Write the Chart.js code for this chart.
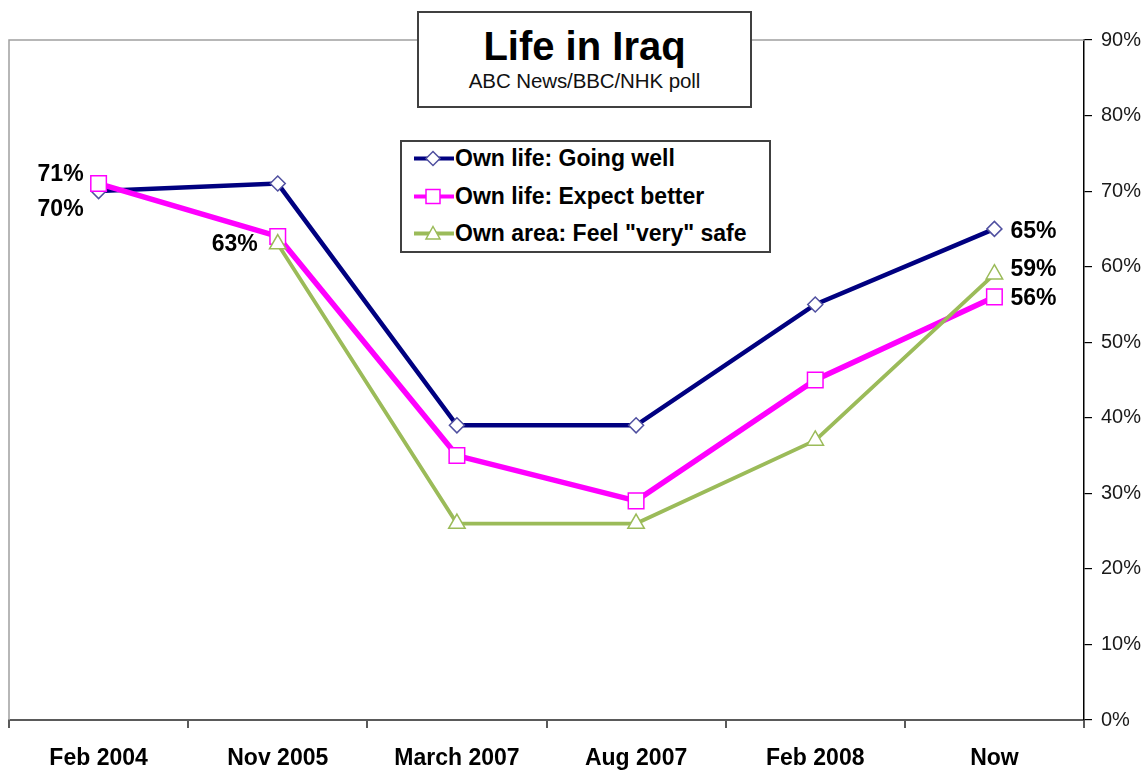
<!DOCTYPE html>
<html>
<head>
<meta charset="utf-8">
<script src="https://cdn.jsdelivr.net/npm/chart.js@4.4.1/dist/chart.umd.min.js"></script>
<style>
  html, body { margin: 0; padding: 0; background: #fff; }
  #wrap { position: relative; width: 1147px; height: 771px; overflow: hidden; font-family: "Liberation Sans", Arial, sans-serif; }
  canvas { position: absolute; left: 0; top: 0; }
  #titleBox { position: absolute; left: 417px; top: 11px; width: 335px; height: 97px; box-sizing: border-box; border: 2px solid #404040; background: #fff; }
  #title { position: absolute; left: 417px; width: 335px; top: 26px; text-align: center; font-weight: bold; font-size: 40px; line-height: 40px; color: #000; }
  #subtitle { position: absolute; left: 417px; width: 335px; top: 71px; text-align: center; font-size: 20.5px; line-height: 20px; color: #111; letter-spacing: -0.1px; }
  #legend { position: absolute; left: 400px; top: 140px; width: 371px; height: 113px; box-sizing: border-box; border: 2px solid #404040; background: #fff; }
  .row { position: absolute; left: 11px; height: 37px; display: flex; align-items: center; font-weight: bold; font-size: 23px; color: #000; white-space: nowrap; }
  .row svg { flex: none; }
</style>
</head>
<body>
<div id="wrap">
  <canvas id="c" width="1147" height="771"></canvas>
  <div id="titleBox"></div>
  <div id="title">Life in Iraq</div>
  <div id="subtitle">ABC News/BBC/NHK poll</div>
  <div id="legend"></div>
</div>
<script>
// ---- Data ----
const categories = ['Feb 2004', 'Nov 2005', 'March 2007', 'Aug 2007', 'Feb 2008', 'Now'];
const goingWell = [70, 71, 39, 39, 55, 65];
const expectBetter = [71, 64, 35, 29, 45, 56];
const feelSafe = [null, 63, 26, 26, 37, 59];
const yTicks = [0, 10, 20, 30, 40, 50, 60, 70, 80, 90];
const seriesNames = ['Own life: Going well', 'Own life: Expect better', 'Own area: Feel "very" safe'];
const chartTitle = 'Life in Iraq';
const chartSubtitle = 'ABC News/BBC/NHK poll';

document.getElementById('title').textContent = chartTitle;
document.getElementById('subtitle').textContent = chartSubtitle;

const FONT = '"Liberation Sans", Arial, sans-serif';
Chart.defaults.font.family = FONT;

const styles = [
  { line: '#000080', width: 4.5, marker: 'rectRot', radius: 7.5, mborder: '#5050a0', mw: 1.5 },
  { line: '#ff00ff', width: 5.5, marker: 'rect', radius: 11, mborder: '#ff00ff', mw: 1.5 },
  { line: '#9bbb59', width: 3.8, marker: 'triangle', radius: 9.5, mborder: '#9bbb59', mw: 1.5 }
];
const seriesData = [goingWell, expectBetter, feelSafe];

// which points get a value label: [datasetIndex, pointIndex, side, dx, dy]
const valueLabels = [
  [1, 0, 'left', -15, -9],
  [0, 0, 'left', -15, 19],
  [2, 1, 'left', -20, 1],
  [0, 5, 'right', 16, 3],
  [2, 5, 'right', 16, -5],
  [1, 5, 'right', 16, 2]
];

const datasets = seriesData.map((d, i) => ({
  label: seriesNames[i],
  data: d,
  borderColor: styles[i].line,
  borderWidth: styles[i].width,
  pointStyle: styles[i].marker,
  pointRadius: styles[i].radius,
  pointHoverRadius: styles[i].radius,
  pointBackgroundColor: '#ffffff',
  pointBorderColor: styles[i].mborder,
  pointBorderWidth: styles[i].mw,
  tension: 0,
  spanGaps: false,
  fill: false,
  order: 3 - i
}));

// ---- Legend (HTML) ----
const legend = document.getElementById('legend');
seriesNames.forEach((name, i) => {
  const s = styles[i];
  let shape = '';
  if (s.marker === 'rectRot') shape = `<polygon points="20,3.5 27,10.5 20,17.5 13,10.5" fill="#fff" stroke="${s.mborder}" stroke-width="1.5"/>`;
  else if (s.marker === 'rect') shape = `<rect x="13" y="3.5" width="14" height="14" fill="#fff" stroke="${s.mborder}" stroke-width="1.5"/>`;
  else shape = `<polygon points="20,3.5 27,16 13,16" fill="#fff" stroke="${s.mborder}" stroke-width="1.5"/>`;
  const row = document.createElement('div');
  row.className = 'row';
  row.style.top = (-2 + i * 37.5) + 'px';
  row.innerHTML = `<svg width="42" height="21" viewBox="0 0 42 21"><line x1="1" y1="10.5" x2="41" y2="10.5" stroke="${s.line}" stroke-width="4"/>${shape}</svg><span>${name.replace(/"/g, '&quot;')}</span>`;
  legend.appendChild(row);
});

// ---- Plugins ----
const areaBorder = {
  id: 'areaBorder',
  beforeDatasetsDraw(chart) {
    const { ctx, chartArea: a } = chart;
    ctx.save();
    ctx.strokeStyle = '#a0a0a0';
    ctx.lineWidth = 1.5;
    ctx.beginPath();
    ctx.moveTo(a.left, a.bottom);
    ctx.lineTo(a.left, a.top);
    ctx.lineTo(a.right, a.top);
    ctx.stroke();
    ctx.restore();
  }
};

const valueLabelPlugin = {
  id: 'valueLabels',
  afterDatasetsDraw(chart) {
    const ctx = chart.ctx;
    ctx.save();
    ctx.font = 'bold 23px ' + FONT;
    ctx.fillStyle = '#000';
    ctx.textBaseline = 'middle';
    valueLabels.forEach(([di, pi, side, dx, dy]) => {
      const meta = chart.getDatasetMeta(di);
      const pt = meta.data[pi];
      const v = chart.data.datasets[di].data[pi];
      if (!pt || v == null) return;
      ctx.textAlign = side === 'left' ? 'right' : 'left';
      ctx.fillText(v + '%', pt.x + dx, pt.y + dy);
    });
    ctx.restore();
  }
};

new Chart(document.getElementById('c'), {
  type: 'line',
  data: { labels: categories, datasets },
  options: {
    responsive: false,
    animation: false,
    devicePixelRatio: 1,
    layout: { autoPadding: false, padding: { left: 9, top: 40, right: 0, bottom: 0 } },
    plugins: {
      legend: { display: false },
      title: { display: false },
      tooltip: { enabled: false }
    },
    scales: {
      x: {
        type: 'category',
        offset: true,
        afterFit(s) { s.height = 51; s.paddingLeft = 0; s.paddingRight = 0; },
        grid: { offset: true, drawOnChartArea: false, drawTicks: true, tickLength: 8, color: '#5a5a5a', lineWidth: 2 },
        border: { display: true, color: '#5a5a5a', width: 2 },
        ticks: { font: { size: 23, weight: 'bold' }, color: '#000', padding: 17, maxRotation: 0, autoSkip: false }
      },
      y: {
        position: 'right',
        min: yTicks[0],
        max: yTicks[yTicks.length - 1],
        afterFit(s) { s.width = 63; s.paddingTop = 0; s.paddingBottom = 0; },
        afterBuildTicks(s) { s.ticks = yTicks.map(v => ({ value: v })); },
        grid: { drawOnChartArea: false, drawTicks: true, tickLength: 8, color: '#000', lineWidth: 1.2 },
        border: { display: true, color: '#000', width: 1.5 },
        ticks: { font: { size: 20 }, color: '#1a1a1a', padding: 9, callback: v => v + '%' }
      }
    }
  },
  plugins: [areaBorder, valueLabelPlugin]
});
</script>
</body>
</html>
